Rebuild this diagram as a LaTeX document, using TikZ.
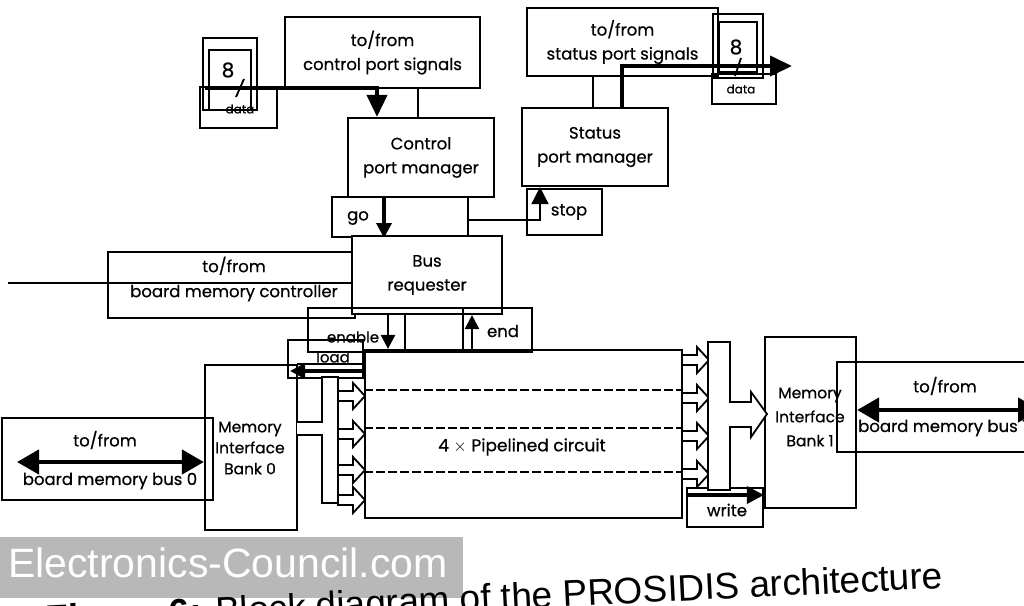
\documentclass[tikz,border=0pt]{standalone}
\usepackage{fontspec}
\setmainfont{Poppins}
\newfontfamily\dfont{Poppins}[FakeBold=0.6]
\newfontfamily\capfont{Liberation Sans}
\usetikzlibrary{arrows.meta,calc}
\begin{document}
\begin{tikzpicture}[x=1pt,y=-1pt,
  box/.style={draw,line width=2.2pt,inner sep=0pt,align=center,font=\dfont\fontsize{16.5}{24}\selectfont},
  lbl/.style={inner sep=0pt,align=center,font=\dfont\fontsize{16.5}{24}\selectfont},
  thinline/.style={line width=1.8pt},
  bigarrow/.style={line width=4pt,-{Triangle[length=22pt,width=20pt]}},
  smallarrow/.style={line width=2.5pt,-{Triangle[length=14pt,width=14pt]}},
  dblarrow/.style={line width=4.5pt,{Triangle[length=22pt,width=24pt]}-{Triangle[length=22pt,width=24pt]}},
  hollowarrow/.pic={\draw[line width=1.8pt,fill=white] (0,-5) -- (15,-5) -- (15,-13) -- (27,0) -- (15,13) -- (15,5) -- (0,5) -- cycle;}
]
\useasboundingbox (0,0) rectangle (1024,605);
\fill[white] (0,0) rectangle (1024,605);
\clip (0,0) rectangle (1024,605);

% ---------- top left: control port ----------
\node[box,minimum width=195pt,minimum height=71pt] (cps) at (382.5,52.5) {to/from\\control port signals};
\node[box,minimum width=54pt,minimum height=72pt] (cdA) at (230,74) {};
\node[box,minimum width=42pt,minimum height=60pt,line width=1.6pt] (cdB) at (230,80) {};
\node[box,minimum width=77pt,minimum height=41pt] (cdC) at (238.5,107.5) {};
\node[lbl,font=\dfont\fontsize{20}{22}\selectfont] (c8) at (228,70) {8};
\node[lbl,font=\dfont\fontsize{12}{13}\selectfont] (cdata) at (240,109) {data};
\node[box,minimum width=146pt,minimum height=79pt] (cpm) at (421,157.5) {Control\\port manager};
\node[box,minimum width=136pt,minimum height=40pt] (gobox) at (400,217) {};
\node[lbl] (go) at (358,218) {go};

\coordinate (cd0) at (205,88);
\coordinate (cd1) at (377,88);
\draw[bigarrow] (cd0) -- (cd1) -- (cd1 |- cpm.north);
\draw[thinline] (236,97) -- (244,79);
\coordinate (cc) at (418,0);
\draw[thinline] (cc |- cps.south) -- (cc |- cpm.north);

% ---------- top right: status port ----------
\node[box,minimum width=191pt,minimum height=68pt] (sps) at (622.5,42) {to/from\\status port signals};
\node[box,minimum width=50pt,minimum height=64pt] (sdA) at (738,46) {};
\node[box,minimum width=38pt,minimum height=50pt,line width=1.6pt] (sdB) at (738,47) {};
\node[box,minimum width=64pt,minimum height=30pt] (sdC) at (744,89) {};
\node[lbl,font=\dfont\fontsize{20}{22}\selectfont] (s8) at (736,47) {8};
\node[lbl,font=\dfont\fontsize{12}{13}\selectfont] (sdata) at (741,89) {data};
\node[box,minimum width=146pt,minimum height=78pt] (spm) at (595,147) {Status\\port manager};
\node[box,minimum width=75pt,minimum height=46pt] (stopbox) at (564.5,212) {};
\node[lbl] (stop) at (569,212) {stop};

\coordinate (s1) at (593,0);
\draw[thinline] (s1 |- sps.south) -- (s1 |- spm.north);
\coordinate (s2) at (622,66);
\coordinate (s3) at (792,66);
\draw[bigarrow] (s2 |- spm.north) -- (s2) -- (s3);
\draw[thinline] (735,76) -- (741,58);

% go / stop arrows
\coordinate (gx) at (384,0);
\draw[line width=3.5pt,-{Triangle[length=15pt,width=15pt]}] (gx |- cpm.south) -- (gx |- 0,238);
\coordinate (sx) at (540,220);
\coordinate (gy) at (468,0);
\draw[thinline] (gy |- cpm.south) -- (gy |- sx);
\draw[thinline,-{Triangle[length=17pt,width=17pt]}] (gy |- sx) -- (sx) -- (sx |- spm.south);

% ---------- bus requester row ----------
\node[box,minimum width=247pt,minimum height=66pt] (bmc) at (231.5,285) {};
\node[lbl] (bmct) at (234,279) {to/from\\[1pt]board memory controller};
\node[box,minimum width=150pt,minimum height=78pt,fill=white] (br) at (427,275) {Bus\\requester};
\coordinate (m0) at (8,283);
\draw[thinline] (m0) -- (m0 -| br.west);

\node[box,minimum width=224pt,minimum height=44pt] (enbox) at (420,330) {};
\node[box,minimum width=69pt,minimum height=44pt] (endbox) at (497.5,330) {};
\node[box,minimum width=75pt,minimum height=38pt] (loadbox) at (325.5,359) {};
\node[lbl,font=\dfont\fontsize{15}{16}\selectfont] (enable) at (353,337) {enable};
\node[lbl] (endt) at (503,331) {end};
\node[lbl,font=\dfont\fontsize{15}{16}\selectfont] (load) at (333,357) {load};

% ---------- memory banks and pipeline ----------
\node[box,minimum width=211pt,minimum height=82pt] (bus0) at (107.5,459) {};
\node[lbl] (bus0a) at (105,440) {to/from};
\node[lbl] (bus0b) at (110,481) {board memory bus 0};
\node[box,minimum width=92pt,minimum height=165pt] (bank0) at (251,447.5) {};
\node[lbl,font=\dfont\fontsize{15.5}{21}\selectfont] (bank0t) at (250,448) {Memory\\Interface\\Bank 0};

\node[box,minimum width=317pt,minimum height=168pt] (pipe) at (523.5,434) {};
\node[lbl,font=\dfont\fontsize{17}{20}\selectfont] (pipet) at (522,447) {4 $\times$ Pipelined circuit};
\foreach \yy in {390,428,472}
  \draw[line width=2.4pt,dash pattern=on 9pt off 3pt] (pipe.west |- 0,\yy) -- (pipe.east |- 0,\yy);

\node[box,minimum width=76pt,minimum height=39pt] (write) at (725,507.5) {};
\node[lbl] (writet) at (727,510) {write};
\node[box,minimum width=91pt,minimum height=171pt] (bank1) at (810.5,422.5) {};
\node[lbl,font=\dfont\fontsize{15.5}{24}\selectfont] (bank1t) at (810,417) {Memory\\Interface\\Bank 1};
\node[box,minimum width=197pt,minimum height=90pt] (bus1) at (935.5,407) {};
\node[lbl] (bus1a) at (945,386) {to/from};
\node[lbl,anchor=west] (bus1b) at (858,428) {board memory bus 1};

% enable / end / divider
\coordinate (ex) at (388,0);
\draw[smallarrow] (ex |- br.south) -- (ex |- pipe.north);
\coordinate (dx) at (405,0);
\draw[line width=2.2pt] (dx |- br.south) -- (dx |- enbox.south);
\coordinate (nx) at (472,0);
\draw[smallarrow] (nx |- pipe.north) -- (nx |- br.south);

% load
\coordinate (l0) at (362,371);
\coordinate (l1) at (290,371);
\draw[line width=1.4pt] (362,364) -- (297,364);
\draw[line width=3.5pt,-{Triangle[length=15pt,width=15pt]}] (l0) -- (l1);

% left distributor
\draw[line width=1.8pt,fill=white] (297,422) -- (322,422) -- (322,377) -- (338,377) -- (338,503) -- (322,503) -- (322,435) -- (297,435);
\foreach \yy in {396,434,470,500}
  \pic at (338,\yy) {hollowarrow};

% right collector
\foreach \yy in {360,398,436,474}
  \pic at (682,\yy) {hollowarrow};
\draw[line width=1.8pt,fill=white] (708,342) -- (730,342) -- (730,402) -- (751,402) -- (751,392) -- (767,414) -- (751,437) -- (751,427) -- (730,427) -- (730,490) -- (708,490) -- cycle;

% write arrow
\coordinate (w0) at (687,495);
\draw[line width=3.5pt,-{Triangle[length=17pt,width=17pt]}] (w0) -- (w0 -| bank1.west);

% memory bus arrows
\coordinate (b0) at (17,462);
\draw[dblarrow] (b0) -- (b0 -| bank0.west);
\coordinate (b1) at (1040,410);
\draw[dblarrow] (b1 -| bank1.east) -- (b1);

% ---------- caption and watermark ----------
\fill[black!28] (0,537) rectangle (463,598);
\node[inner sep=0pt,anchor=base,rotate=2.8,font=\capfont\fontsize{37}{40}\selectfont] (cap) at (495,610) {\textbf{Figure 6:} Block diagram of the PROSIDIS architecture};
\node[inner sep=0pt,text=white,font=\capfont\fontsize{41}{44}\selectfont] (wm) at (228,563) {Electronics-Council.com};
\end{tikzpicture}
\end{document}
